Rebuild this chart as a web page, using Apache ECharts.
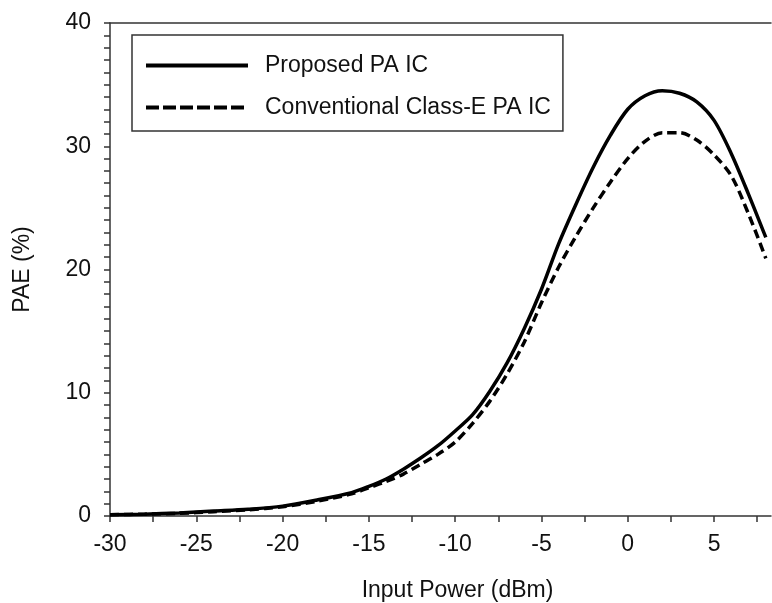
<!DOCTYPE html>
<html>
<head>
<meta charset="utf-8">
<script src="https://cdn.jsdelivr.net/npm/echarts@6/dist/echarts.min.js"></script>
<style>
  html, body { margin: 0; padding: 0; background: #fff; }
  #chart { width: 772px; height: 603px; }
</style>
</head>
<body>
<div id="chart"></div>
<script>
// input power (dBm)
const inputPower = [-30, -28, -26, -24, -22, -20, -18, -16, -15, -14, -13, -12, -11, -10, -9, -8, -7, -6, -5, -4, -3, -2, -1, 0, 1, 2, 3, 4, 5, 6, 7, 8]
// PAE (%) of the proposed PA IC
const proposedPae = [0.1, 0.15, 0.25, 0.4, 0.55, 0.8, 1.3, 1.9, 2.4, 3.0, 3.8, 4.7, 5.7, 6.9, 8.2, 10.1, 12.4, 15.2, 18.4, 22.1, 25.3, 28.3, 30.9, 33.0, 34.1, 34.5, 34.3, 33.6, 32.1, 29.4, 26.1, 22.6]
// PAE (%) of the conventional class-E PA IC
const conventionalPae = [0.1, 0.15, 0.22, 0.35, 0.5, 0.75, 1.2, 1.8, 2.3, 2.8, 3.4, 4.2, 5.0, 6.0, 7.5, 9.3, 11.5, 14.1, 17.3, 20.2, 22.7, 25.0, 27.1, 29.0, 30.4, 31.1, 31.1, 30.5, 29.3, 27.6, 24.5, 20.9]

const seriesNames = ['Proposed PA IC', 'Conventional Class-E PA IC']

const font = "'Liberation Sans', Arial, sans-serif"
const textColor = '#111'
const axisColor = '#333'

const toPairs = (ys) => inputPower.map((x, i) => [x, ys[i]])

const chart = echarts.init(document.getElementById('chart'))

const option = {
  animation: false,
  backgroundColor: '#fff',
  textStyle: { fontFamily: font },
  grid: {
    left: 110,
    top: 23,
    right: 1,
    bottom: 87,
    outerBoundsMode: 'none',
    containLabel: false,
  },
  legend: {
    orient: 'vertical',
    left: 132,
    top: 35,
    align: 'left',
    selectedMode: false,
    data: [
      { name: seriesNames[0], lineStyle: { width: 4, type: 'solid' } },
      { name: seriesNames[1], lineStyle: { width: 4, type: [13, 4] } },
    ],
    itemWidth: 102,
    itemHeight: 14,
    itemGap: 19,
    padding: [19, 12, 12, 12],
    borderColor: axisColor,
    borderWidth: 1.5,
    itemStyle: { color: 'transparent', borderColor: 'transparent', borderWidth: 0, opacity: 0 },
    textStyle: {
      fontFamily: font,
      fontSize: 23,
      color: textColor,
      padding: [0, 0, 0, 12],
    },
  },
  xAxis: [
    {
      type: 'value',
      min: -30,
      max: 8.3,
      interval: 2.5,
      name: 'Input Power (dBm)',
      nameLocation: 'middle',
      nameGap: 63,
      nameTextStyle: { fontFamily: font, fontSize: 23, color: textColor, padding: [0, 0, 0, 34] },
      axisLine: { show: true, onZero: false, lineStyle: { color: axisColor, width: 1.5 } },
      axisTick: { show: true, inside: false, length: 6, lineStyle: { color: axisColor, width: 1.5 } },
      axisLabel: {
        fontFamily: font,
        fontSize: 23,
        color: textColor,
        margin: 17,
        showMaxLabel: false,
        formatter: (v) => (Math.abs(v % 5) < 1e-9 ? String(v) : ''),
      },
      splitLine: { show: false },
    },
    {
      type: 'value',
      position: 'top',
      min: -30,
      max: 8.3,
      axisLine: { show: true, onZero: false, lineStyle: { color: axisColor, width: 1.5 } },
      axisTick: { show: false },
      axisLabel: { show: false },
      splitLine: { show: false },
    },
  ],
  yAxis: {
    type: 'value',
    min: 0,
    max: 40,
    interval: 10,
    name: 'PAE (%)',
    nameLocation: 'middle',
    nameGap: 76,
    nameTextStyle: { fontFamily: font, fontSize: 23, color: textColor },
    axisLine: { show: true, onZero: false, lineStyle: { color: axisColor, width: 1.5 } },
    axisTick: { show: true, length: 6, lineStyle: { color: axisColor, width: 1.5 } },
    minorTick: { show: true, splitNumber: 10, length: 6, lineStyle: { color: axisColor, width: 1.5 } },
    axisLabel: { fontFamily: font, fontSize: 23, color: textColor, margin: 19 },
    splitLine: { show: false },
  },
  series: [
    {
      name: seriesNames[0],
      type: 'line',
      smooth: 0.3,
      showSymbol: false,
      symbol: 'none',
      lineStyle: { color: '#000', width: 3.5, type: 'solid' },
      itemStyle: { color: '#000' },
      data: toPairs(proposedPae),
    },
    {
      name: seriesNames[1],
      type: 'line',
      smooth: 0.3,
      showSymbol: false,
      symbol: 'none',
      lineStyle: { color: '#000', width: 3.5, type: [9, 5] },
      itemStyle: { color: '#000' },
      data: toPairs(conventionalPae),
    },
  ],
}

chart.setOption(option)
</script>
</body>
</html>
